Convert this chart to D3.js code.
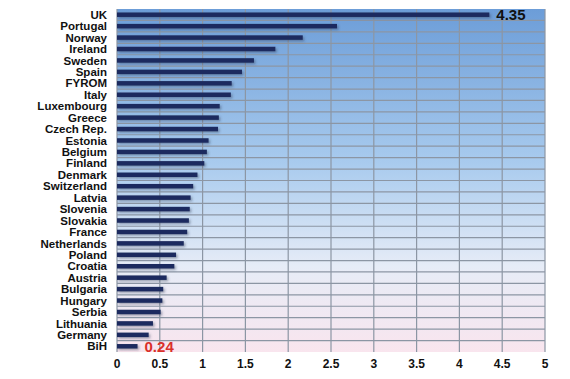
<!DOCTYPE html>
<html lang="en">
<head>
<meta charset="UTF-8">
<title>Bar chart</title>
<script src="https://cdn.jsdelivr.net/npm/d3@7"></script>
<style>
  body { margin: 0; background: #fff; }
  text { font-family: "Liberation Sans", Arial, sans-serif; font-weight: bold; }
</style>
</head>
<body>
<svg width="570" height="379" id="mainsvg"></svg>
<script>
const countries = ['UK', 'Portugal', 'Norway', 'Ireland', 'Sweden', 'Spain', 'FYROM', 'Italy',
  'Luxembourg', 'Greece', 'Czech Rep.', 'Estonia', 'Belgium', 'Finland', 'Denmark', 'Switzerland',
  'Latvia', 'Slovenia', 'Slovakia', 'France', 'Netherlands', 'Poland', 'Croatia', 'Austria',
  'Bulgaria', 'Hungary', 'Serbia', 'Lithuania', 'Germany', 'BiH'];
const values = [4.35, 2.57, 2.17, 1.85, 1.60, 1.46, 1.34, 1.33,
  1.20, 1.19, 1.18, 1.07, 1.05, 1.02, 0.94, 0.89,
  0.86, 0.85, 0.84, 0.82, 0.78, 0.69, 0.67, 0.58,
  0.54, 0.53, 0.51, 0.42, 0.37, 0.24];
const xTicks = [0, 0.5, 1, 1.5, 2, 2.5, 3, 3.5, 4, 4.5, 5];

const svg = d3.select('#mainsvg');
const margin = { top: 9, left: 117, right: 25, bottom: 27 };
const innerWidth = 570 - margin.left - margin.right;
const innerHeight = 379 - margin.top - margin.bottom;

const xScale = d3.scaleLinear().domain([0, 5]).range([0, innerWidth]);
const yScale = d3.scaleBand().domain(countries).range([0, innerHeight]);

const defs = svg.append('defs');
const grad = defs.append('linearGradient').attr('id', 'bg')
  .attr('x1', 0).attr('y1', 0).attr('x2', 0).attr('y2', 1);
grad.append('stop').attr('offset', '0%').attr('stop-color', '#6c9dd8');
grad.append('stop').attr('offset', '45%').attr('stop-color', '#a9cbee');
grad.append('stop').attr('offset', '75%').attr('stop-color', '#e6ecf7');
grad.append('stop').attr('offset', '100%').attr('stop-color', '#f9e5ee');

const shadow = defs.append('filter').attr('id', 'shadow')
  .attr('x', '-5%').attr('y', '-50%').attr('width', '120%').attr('height', '250%');
shadow.append('feDropShadow').attr('dx', 1.5).attr('dy', 1.5).attr('stdDeviation', 0.8)
  .attr('flood-color', '#33415a').attr('flood-opacity', 0.45);

const g = svg.append('g').attr('transform', `translate(${margin.left},${margin.top})`);

g.append('rect').attr('width', innerWidth).attr('height', innerHeight).attr('fill', 'url(#bg)');

// horizontal gridlines between rows
g.selectAll('.hgrid').data(countries.slice(1)).enter().append('line')
  .attr('x1', 0).attr('x2', innerWidth)
  .attr('y1', d => yScale(d)).attr('y2', d => yScale(d))
  .attr('stroke', '#8c96a4').attr('stroke-width', 1.2);

// vertical gridlines
g.selectAll('.vgrid').data(xTicks).enter().append('line')
  .attr('x1', d => xScale(d)).attr('x2', d => xScale(d))
  .attr('y1', 0).attr('y2', innerHeight)
  .attr('stroke', '#8c96a4').attr('stroke-width', 1.2);

// bars
const barH = 4.5;
g.selectAll('.bar').data(countries).enter().append('rect')
  .attr('x', 0)
  .attr('y', d => yScale(d) + yScale.bandwidth() / 2 - barH / 2)
  .attr('width', (d, i) => xScale(values[i]))
  .attr('height', barH)
  .attr('fill', '#1c2b5e')
  .attr('filter', 'url(#shadow)');

// category labels
g.selectAll('.lab').data(countries).enter().append('text')
  .attr('x', -10)
  .attr('y', d => yScale(d) + yScale.bandwidth() / 2)
  .attr('dy', '0.36em')
  .attr('text-anchor', 'end')
  .attr('font-size', 11.5)
  .attr('fill', '#111')
  .text(d => d);

// x tick labels
g.selectAll('.tick-lab').data(xTicks).enter().append('text')
  .attr('x', d => xScale(d))
  .attr('y', innerHeight + 16)
  .attr('text-anchor', 'middle')
  .attr('font-size', 12)
  .attr('fill', '#111')
  .text(d => d);

// value annotations
const first = 0, last = countries.length - 1;
g.append('text')
  .attr('x', xScale(values[first]) + 7)
  .attr('y', yScale(countries[first]) + yScale.bandwidth() / 2)
  .attr('dy', '0.38em')
  .attr('font-size', 15)
  .attr('fill', '#111')
  .text(values[first].toFixed(2));
g.append('text')
  .attr('x', xScale(values[last]) + 7)
  .attr('y', yScale(countries[last]) + yScale.bandwidth() / 2)
  .attr('dy', '0.38em')
  .attr('font-size', 15)
  .attr('fill', '#d9302a')
  .text(values[last].toFixed(2));
</script>
</body>
</html>
